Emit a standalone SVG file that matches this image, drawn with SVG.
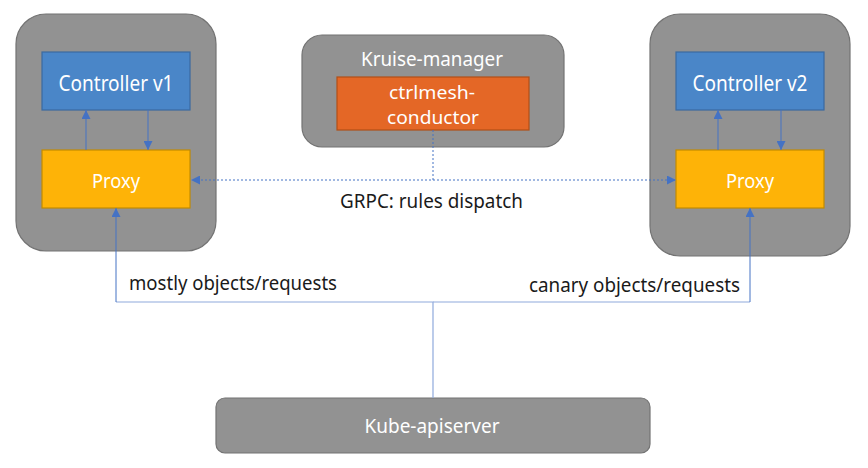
<svg xmlns="http://www.w3.org/2000/svg" width="868" height="468" viewBox="0 0 868 468">
<style>
.pod{fill:#929292;stroke:#737373;stroke-width:1.2}
.ctl{fill:#4a86c8;stroke:#3b6aa0;stroke-width:1.2}
.proxy{fill:#feb307;stroke:#c28a00;stroke-width:1.2}
.cond{fill:#e46726;stroke:#b14f16;stroke-width:1.2}
.wt{fill:#ffffff;font-family:"Noto Sans","Open Sans","Liberation Sans",sans-serif;text-anchor:middle}
.bt{fill:#1a1a1a;font-family:"Noto Sans","Open Sans","Liberation Sans",sans-serif}
.ln{fill:none;stroke:#4472c4;stroke-width:1}
.lt{fill:none;stroke:#8faadc;stroke-width:1.2}
.dot{fill:none;stroke:#4472c4;stroke-width:1;stroke-dasharray:2 2}
</style>
<defs>
<marker id="ah" viewBox="0 0 10 10" refX="10" refY="5" markerWidth="9" markerHeight="9" markerUnits="userSpaceOnUse" orient="auto">
<path d="M0,0 L10,5 L0,10 z" fill="#4472c4"/>
</marker>
</defs>
<rect width="868" height="468" fill="#ffffff"/>

<g id="pod-v1">
<rect class="pod" x="16" y="14" width="200" height="237" rx="30"/>
</g>
<g id="controller-v1">
<rect class="ctl" x="42" y="52" width="148" height="58"/>
<text class="wt" x="116" y="91" font-size="21" textLength="115" lengthAdjust="spacingAndGlyphs">Controller v1</text>
</g>
<g id="proxy-v1">
<rect class="proxy" x="42" y="150" width="148" height="58"/>
<text class="wt" x="116" y="188" font-size="20.5" textLength="48" lengthAdjust="spacingAndGlyphs">Proxy</text>
</g>

<g id="pod-v2">
<rect class="pod" x="650" y="14" width="200" height="242" rx="30"/>
</g>
<g id="controller-v2">
<rect class="ctl" x="676" y="52" width="148" height="58"/>
<text class="wt" x="750" y="91" font-size="21" textLength="115" lengthAdjust="spacingAndGlyphs">Controller v2</text>
</g>
<g id="proxy-v2">
<rect class="proxy" x="676" y="150" width="148" height="58"/>
<text class="wt" x="750" y="188" font-size="20.5" textLength="48" lengthAdjust="spacingAndGlyphs">Proxy</text>
</g>

<g id="kruise-manager">
<rect class="pod" x="302" y="35" width="262" height="112" rx="20"/>
<text class="wt" x="432" y="66" font-size="19" textLength="142" lengthAdjust="spacingAndGlyphs">Kruise-manager</text>
</g>
<g id="ctrlmesh-conductor">
<rect class="cond" x="337" y="77" width="192" height="53"/>
<text class="wt" x="432" y="98.5" font-size="18.5" textLength="86" lengthAdjust="spacingAndGlyphs">ctrlmesh-</text>
<text class="wt" x="433" y="124" font-size="18.5" textLength="92" lengthAdjust="spacingAndGlyphs">conductor</text>
</g>

<g id="kube-apiserver">
<rect class="pod" x="216" y="398" width="434" height="55" rx="9"/>
<text class="wt" x="432" y="433" font-size="19" textLength="135" lengthAdjust="spacingAndGlyphs">Kube-apiserver</text>
</g>

<g id="connectors">
<line class="ln" x1="86" y1="150" x2="86" y2="110" marker-end="url(#ah)"/>
<line class="ln" x1="148" y1="110" x2="148" y2="150" marker-end="url(#ah)"/>
<line class="ln" x1="718" y1="150" x2="718" y2="110" marker-end="url(#ah)"/>
<line class="ln" x1="781" y1="110" x2="781" y2="150" marker-end="url(#ah)"/>
<polyline class="dot" points="433,130 433,180 191,180" marker-end="url(#ah)"/>
<line class="dot" x1="433" y1="180" x2="676" y2="180" marker-end="url(#ah)"/>
<polyline class="lt" points="433,398 433,302 116,302"/>
<line class="ln" x1="116" y1="302" x2="116" y2="208" marker-end="url(#ah)"/>
<line class="lt" x1="433" y1="302" x2="750" y2="302"/>
<line class="ln" x1="750" y1="302" x2="750" y2="208" marker-end="url(#ah)"/>
</g>

<text class="bt" x="340" y="208" font-size="20" textLength="183" lengthAdjust="spacingAndGlyphs">GRPC: rules dispatch</text>
<text class="bt" x="129" y="290" font-size="19" textLength="208" lengthAdjust="spacingAndGlyphs">mostly objects/requests</text>
<text class="bt" x="529" y="292" font-size="19" textLength="211" lengthAdjust="spacingAndGlyphs">canary objects/requests</text>
</svg>
